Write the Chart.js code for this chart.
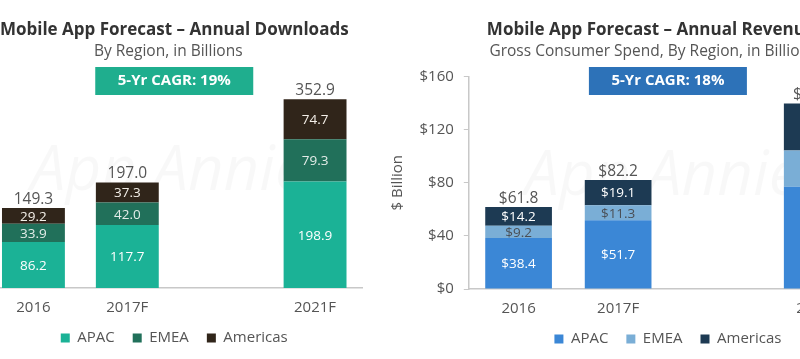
<!DOCTYPE html>
<html>
<head>
<meta charset="utf-8">
<script src="https://cdn.jsdelivr.net/npm/chart.js@4.4.1/dist/chart.umd.min.js"></script>
<style>
  html, body { margin: 0; padding: 0; background: #fff; overflow: hidden; }
  body { width: 800px; height: 359px; position: relative; }
  .panel { position: absolute; top: 0; height: 359px; }
  #downloads { left: -40px; width: 420px; }
  #revenue { left: 380px; width: 500px; }
</style>
</head>
<body>
<div class="panel" id="downloads"><canvas id="downloadsChart"></canvas></div>
<div class="panel" id="revenue"><canvas id="revenueChart"></canvas></div>
<script>
const years = ["2016", "2017F", "", "2021F"];
const regions = ["APAC", "EMEA", "Americas"];

// downloads, billions
const downloadsApac = [86.2, 117.7, null, 198.9];
const downloadsEmea = [33.9, 42.0, null, 79.3];
const downloadsAmericas = [29.2, 37.3, null, 74.7];
const downloadsTotal = [149.3, 197.0, null, 352.9];

// gross consumer spend, $ billions
const revenueApac = [38.4, 51.7, null, 77.0];
const revenueEmea = [9.2, 11.3, null, 27.2];
const revenueAmericas = [14.2, 19.1, null, 35.5];
const revenueTotal = [61.8, 82.2, null, 139.7];

const FONT = "'Open Sans'";

// title + subtitle, centred over the plot area (with a small nudge)
const headings = {
  id: "headings",
  afterDraw(chart, args, opts) {
    const { ctx, chartArea } = chart;
    const cx = (chartArea.left + chartArea.right) / 2;
    ctx.save();
    ctx.textAlign = "center";
    ctx.textBaseline = "middle";
    ctx.fillStyle = "#333";
    ctx.font = "bold 17px " + FONT;
    ctx.fillText(opts.title, cx + opts.titleDx, 30);
    ctx.fillStyle = "#555";
    ctx.font = "15.5px " + FONT;
    ctx.fillText(opts.subtitle, cx + opts.subtitleDx, 52);
    ctx.restore();
  },
};

const barLabels = {
  id: "barLabels",
  afterDatasetsDraw(chart, args, opts) {
    const ctx = chart.ctx;
    ctx.save();
    ctx.textAlign = "center";
    ctx.textBaseline = "middle";
    ctx.font = "13.5px " + FONT;
    chart.data.datasets.forEach((ds, i) => {
      const meta = chart.getDatasetMeta(i);
      meta.data.forEach((bar, j) => {
        if (ds.data[j] == null) return;
        ctx.fillStyle = opts.colors[i];
        ctx.fillText(opts.format(ds.data[j]), bar.x, (bar.y + bar.base) / 2 + 1);
      });
    });
    // totals above the stack
    const top = chart.getDatasetMeta(chart.data.datasets.length - 1);
    ctx.font = "15.5px " + FONT;
    ctx.fillStyle = "#555";
    ctx.textBaseline = "bottom";
    opts.totals.forEach((t, j) => {
      if (t == null) return;
      ctx.fillText(opts.format(t), top.data[j].x, top.data[j].y - 1);
    });
    ctx.restore();
  },
};

const cagrBox = {
  id: "cagrBox",
  afterDraw(chart, args, opts) {
    const { ctx, scales } = chart;
    const cx = scales.x.getPixelForValue(opts.at);
    ctx.save();
    ctx.fillStyle = opts.color;
    ctx.fillRect(cx - opts.width / 2, opts.top, opts.width, opts.height);
    ctx.fillStyle = "#fff";
    ctx.font = "bold 15px " + FONT;
    ctx.textAlign = "center";
    ctx.textBaseline = "middle";
    ctx.fillText(opts.text, cx, opts.top + opts.height / 2);
    ctx.restore();
  },
};

const watermark = {
  id: "watermark",
  beforeDatasetsDraw(chart, args, opts) {
    const { ctx, chartArea } = chart;
    ctx.save();
    ctx.font = "italic 62px " + FONT;
    ctx.fillStyle = "rgba(0,0,0,0.028)";
    ctx.textAlign = "center";
    ctx.textBaseline = "middle";
    ctx.fillText("App Annie", (chartArea.left + chartArea.right) / 2 + opts.dx, opts.y);
    ctx.restore();
  },
};

const makeDataset = (label, data, color) => ({
  label,
  data,
  backgroundColor: color,
  borderWidth: 0,
  categoryPercentage: 1,
  barPercentage: 0.67,
});

const getConfig = (opt) => ({
  type: "bar",
  data: {
    labels: years,
    datasets: [
      makeDataset(regions[0], opt.series[0], opt.colors[0]),
      makeDataset(regions[1], opt.series[1], opt.colors[1]),
      makeDataset(regions[2], opt.series[2], opt.colors[2]),
    ],
  },
  options: {
    responsive: true,
    maintainAspectRatio: false,
    animation: false,
    events: [],
    layout: { padding: opt.padding },
    plugins: {
      legend: {
        position: "bottom",
        fullSize: false,
        labels: {
          boxWidth: 9,
          boxHeight: 9,
          padding: 18,
          color: "#555",
          font: { family: FONT, size: 15 },
        },
      },
      tooltip: { enabled: false },
      headings: {
        title: opt.title,
        subtitle: opt.subtitle,
        titleDx: opt.titleDx,
        subtitleDx: opt.subtitleDx,
      },
      barLabels: { totals: opt.totals, colors: opt.labelColors, format: opt.format },
      cagrBox: { at: 1.5, top: 67, width: 158, height: 28, color: opt.cagrColor, text: opt.cagr },
      watermark: { y: opt.watermarkY, dx: -6 },
    },
    scales: {
      x: {
        stacked: true,
        grid: { display: false, drawTicks: false },
        border: { display: true, color: "#c8c8c8", width: 1.5 },
        ticks: { color: "#555", padding: 11, font: { family: FONT, size: 15 } },
        afterFit: (scale) => {
          // pull the legend up closer to the tick labels
          scale.height -= 15.5;
        },
      },
      y: opt.y,
    },
  },
  plugins: [watermark, barLabels, cagrBox, headings],
});

new Chart(
  document.getElementById("downloadsChart"),
  getConfig({
    series: [downloadsApac, downloadsEmea, downloadsAmericas],
    totals: downloadsTotal,
    colors: ["#1bb296", "#21705a", "#30251a"],
    labelColors: ["#ffffff", "#e3ece8", "#f3efe8"],
    format: (v) => v.toFixed(1),
    title: "Mobile App Forecast \u2013 Annual Downloads",
    subtitle: "By Region, in Billions",
    titleDx: 0,
    subtitleDx: -6,
    cagr: "5-Yr CAGR: 19%",
    cagrColor: "#1fae8e",
    watermarkY: 172,
    padding: { top: 74, left: 26.5, right: 18, bottom: 3.5 },
    y: { display: false, stacked: true, min: 0, max: 400 },
  })
);

new Chart(
  document.getElementById("revenueChart"),
  getConfig({
    series: [revenueApac, revenueEmea, revenueAmericas],
    totals: revenueTotal,
    colors: ["#3b87d6", "#7aaed6", "#1d3a53"],
    labelColors: ["#ffffff", "#4a4f55", "#ffffff"],
    format: (v) => "$" + v.toFixed(1),
    title: "Mobile App Forecast \u2013 Annual Revenue",
    subtitle: "Gross Consumer Spend, By Region, in Billions",
    titleDx: -17,
    subtitleDx: -15,
    cagr: "5-Yr CAGR: 18%",
    cagrColor: "#2d72b8",
    watermarkY: 177,
    padding: { top: 76.5, left: 5, right: 13, bottom: 2.5 },
    y: {
      stacked: true,
      min: 0,
      max: 160,
      grid: { drawOnChartArea: false, drawTicks: true, tickLength: 5, color: "#c8c8c8" },
      border: { display: true, color: "#c8c8c8", width: 1.5 },
      ticks: {
        stepSize: 40,
        padding: 10,
        color: "#555",
        font: { family: FONT, size: 15 },
        callback: (v) => "$" + v,
      },
      title: {
        display: true,
        text: "$ Billion",
        color: "#555",
        font: { family: FONT, size: 15 },
        padding: { top: 4, bottom: 2.5 },
      },
    },
  })
);
</script>
</body>
</html>
